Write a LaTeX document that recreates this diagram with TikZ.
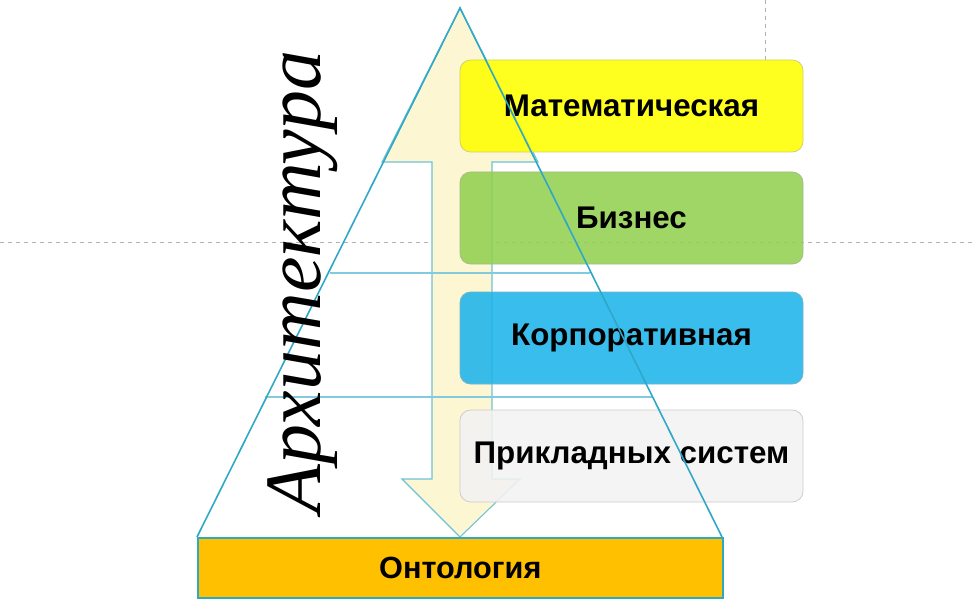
\documentclass[tikz,border=0pt]{standalone}
\usepackage{fontspec}
\setmainfont{Liberation Sans}
\newfontfamily\scriptf{Liberation Serif}
\begin{document}
\begin{tikzpicture}[x=0.75pt,y=-0.75pt,
  lvl/.style={draw=#1!70!black!60, fill=#1, fill opacity=0.88, text opacity=1, rounded corners=8pt, minimum width=257.25pt, minimum height=69pt, font=\fontsize{23.5}{26}\selectfont\bfseries, line width=0.6pt},
  pl/.style={draw=cyan!70!blue!80!white, line width=1pt}]
\useasboundingbox (0,0) rectangle (974,606);
\definecolor{myel}{HTML}{FFFF00}
\definecolor{mgr}{HTML}{92D050}
\definecolor{mbl}{HTML}{1EB4EA}
\definecolor{mgy}{HTML}{F2F2F2}
\definecolor{mor}{HTML}{FFC000}
\definecolor{arr}{HTML}{FCF6D2}
\definecolor{pb}{HTML}{2FA8C8}
\draw[gray!60, dashed] (0,242) -- (974,242);
\draw[gray!60, dashed] (765,0) -- (765,60);
% arrow
\draw[pb!70, line width=0.8pt, fill=arr] (460,8) -- (538,162) -- (492,162) -- (492,479) -- (520,479) -- (460,537) -- (402,479) -- (432,479) -- (432,162) -- (382,162) -- cycle;
% level lines
\coordinate (l1a) at (330,273); \coordinate (l1b) at (590,273);
\coordinate (l2a) at (265,397); \coordinate (l2b) at (653,397);
\draw[pb!60, line width=0.8pt] (l1a) -- (l1b);
\draw[pb!60, line width=0.8pt] (l2a) -- (l2b);
\node[lvl=myel] (m) at (631.5,106) {Математическая};
\node[lvl=mgr] (b) at (631.5,218) {Бизнес};
\node[lvl=mbl] (k) at (631.5,338) {Корпоративная};
\node[lvl=mgy] (p) at (631.5,456) {Прикладных систем};
% pyramid
\coordinate (apex) at (460,8);
\coordinate (bl) at (197,537);
\coordinate (br) at (722,537);
\draw[pb, line width=1.2pt] (bl) -- (apex) -- (br);
\node[draw=pb, line width=1.2pt, fill=mor, minimum width=393.75pt, minimum height=45pt, font=\fontsize{23}{26}\selectfont\bfseries, anchor=north west] (o) at (197,537) {Онтология};
\node[rotate=90, font=\scriptf\itshape\fontsize{60}{66}\selectfont] (a) at (303,282) {Архитектура};
\end{tikzpicture}
\end{document}
